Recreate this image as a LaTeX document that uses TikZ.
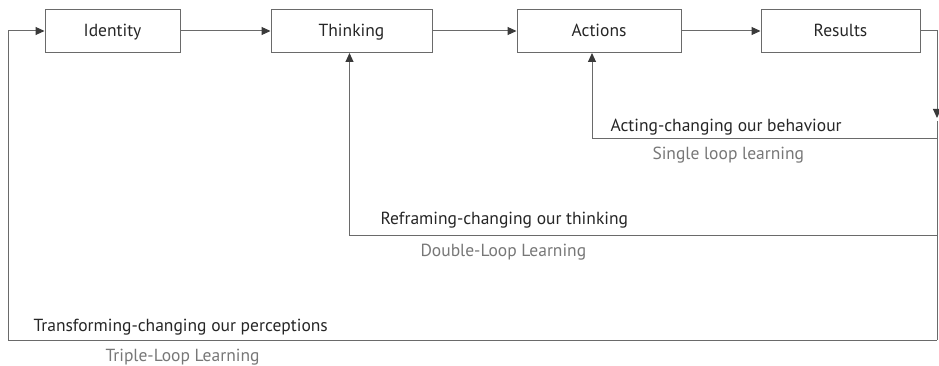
\documentclass[tikz,border=0pt]{standalone}
\usepackage{fontspec}
\setmainfont{PT Sans}
\usetikzlibrary{arrows.meta}
\usetikzlibrary{positioning}

\definecolor{linegray}{HTML}{6A6A6A}
\definecolor{tipgray}{HTML}{3A3A3A}
\definecolor{labelgray}{HTML}{777777}

\tikzset{
  stage/.style={draw=linegray,line width=1pt,minimum width=135pt,minimum height=43pt,
    text height=12.5pt,text depth=0.5pt,
    font=\fontsize{17.5}{20}\selectfont,text=black!85},
  looplabel/.style={anchor=base west,inner sep=0pt,font=\fontsize{17.5}{20}\selectfont,text=black!85},
  loopname/.style={anchor=base west,inner sep=0pt,font=\fontsize{17.5}{20}\selectfont,text=labelgray}
}

\begin{document}
\begin{tikzpicture}[x=1pt,y=-1pt,line width=1pt,draw=linegray,
  >={Triangle[length=9pt,width=8pt,color=tipgray]}]
\useasboundingbox (0,0) rectangle (939,366);

% Stage nodes
\node[stage] (I) at (112.5,31) {Identity};
\node[stage,minimum width=161pt] (T) at (351.5,31) {Thinking};
\node[stage,minimum width=164pt] (A) at (599,31) {Actions};
\node[stage,minimum width=159pt] (R) at (840.5,31) {Results};

% Corner points of the loops
\coordinate (Rc) at (937,31);
\coordinate (Rt) at (937,118);
\coordinate (Ft) at (937,121);
\coordinate (Fb) at (937,340);
\coordinate (S) at (937,139);
\coordinate (D) at (937,235);
\coordinate (L) at (8,340);

% Forward arrows
\draw[->] (I) -- (T);
\draw[->] (T) -- (A);
\draw[->] (A) -- (R);
\draw[->] (R) -- (Rc) -- (Rt);

% Feedback loops
\draw (Ft) -- (Fb);
\draw[->] (S) -| ([xshift=-7pt]A.south);
\draw[->] (D) -| ([xshift=-2pt]T.south);
\draw[->] (Fb) -- (L) |- (I.west);

% Labels
\node[looplabel] (sa) at (610,132) {Acting-changing our behaviour};
\node[loopname] (sb) at (652,160) {Single loop learning};
\node[looplabel] (da) at (380,224) {Reframing-changing our thinking};
\node[loopname] (db) at (420,256) {Double-Loop Learning};
\node[looplabel] (ta) at (33,331) {Transforming-changing our perceptions};
\node[loopname] (tb) at (105,361) {Triple-Loop Learning};

\end{tikzpicture}
\end{document}
